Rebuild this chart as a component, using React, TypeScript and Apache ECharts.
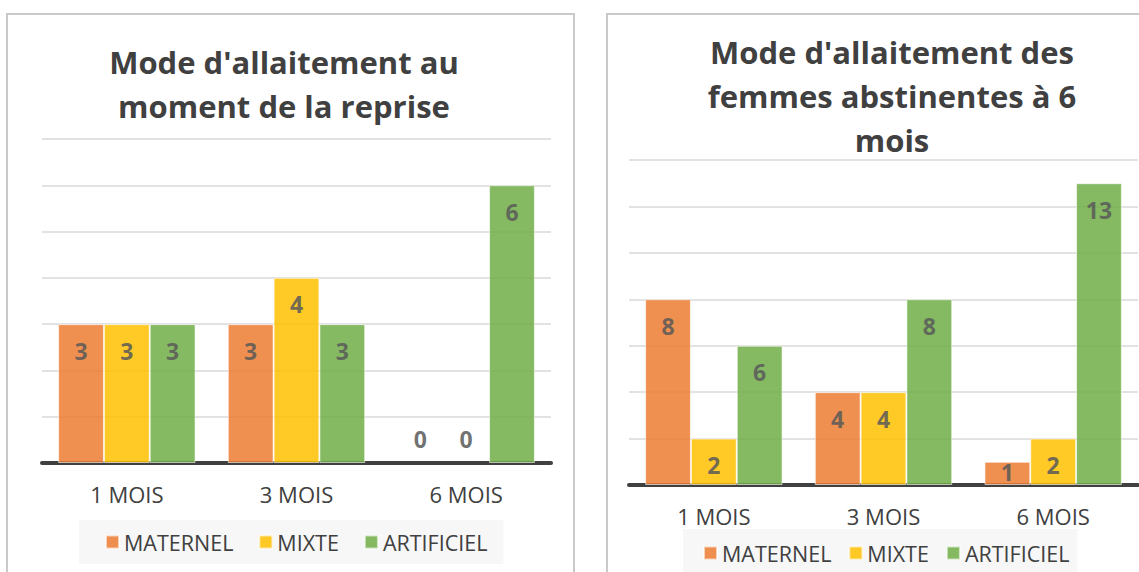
import React, { useEffect, useRef } from "react";
import * as echarts from "echarts";

const categories = ["1 MOIS", "3 MOIS", "6 MOIS"];
const seriesNames = ["MATERNEL", "MIXTE", "ARTIFICIEL"];
const leftValues = {
  MATERNEL: [3, 3, 0],
  MIXTE: [3, 4, 0],
  ARTIFICIEL: [3, 3, 6],
};
const rightValues = {
  MATERNEL: [8, 4, 1],
  MIXTE: [2, 4, 2],
  ARTIFICIEL: [6, 8, 13],
};
const leftTitle = "Mode d'allaitement au\nmoment de la reprise";
const rightTitle = "Mode d'allaitement des\nfemmes abstinentes à 6\nmois";
const colors = ["#ED7D31", "#FFC000", "#70AD47"];

const FONT = "'Open Sans', 'DejaVu Sans', sans-serif";

function labelFor(v: number, pxPerUnit: number) {
  const base = {
    show: true,
    color: "#595959",
    fontSize: 23,
    fontWeight: "bold" as const,
    fontFamily: FONT,
  };
  if (v === 0) return { ...base, position: "insideBottom", distance: 13 };
  if (v * pxPerUnit < 40) return { ...base, position: "insideBottom", distance: 2 };
  return { ...base, position: "insideTop", distance: 15 };
}

export default function App() {
  const ref = useRef<HTMLDivElement>(null);
  useEffect(() => {
    if (!ref.current) return;
    const chart = echarts.init(ref.current, null, { renderer: "svg" });
    const leftPx = (463 - 139) / 7;
    const rightPx = (485 - 160) / 14;
    const makeSeries = (vals: any, idx: number, px: number) =>
      seriesNames.map((n, i) => ({
        name: n,
        type: "bar",
        xAxisIndex: idx,
        yAxisIndex: idx,
        barGap: "0%",
        barCategoryGap: "19%",
        itemStyle: {
          color: colors[i],
          opacity: 0.85,
          borderColor: "rgba(255,255,255,0.7)",
          borderWidth: 1,
        },
        data: vals[n].map((v: number) => ({
          value: v,
          label: labelFor(v, px),
          itemStyle: v === 0 ? { borderWidth: 0 } : undefined,
        })),
      }));
    const xAxisBase = (grid: number) => ({
      type: "category",
      gridIndex: grid,
      data: categories,
      axisTick: { show: false },
      axisLine: { lineStyle: { color: "#404040", width: 4 } },
      axisLabel: { color: "#404040", fontSize: 22, fontFamily: FONT, margin: 20 },
    });
    const yAxisBase = (grid: number, max: number, interval: number) => ({
      type: "value",
      gridIndex: grid,
      min: 0,
      max,
      interval,
      axisLabel: { show: false },
      axisLine: { show: false },
      axisTick: { show: false },
      splitLine: { lineStyle: { color: "#d9d9d9", width: 1.5 } },
    });
    const legendBase = {
      data: seriesNames,
      icon: "rect",
      itemWidth: 13,
      itemHeight: 13,
      backgroundColor: "#f7f7f7",
      textStyle: { color: "#404040", fontSize: 21.5, fontFamily: FONT },
      selectedMode: false,
    };
    const titleStyle = {
      color: "#404040",
      fontSize: 31,
      fontWeight: "bold" as const,
      fontFamily: FONT,
      lineHeight: 44,
    };
    chart.setOption({
      animation: false,
      backgroundColor: "#ffffff",
      graphic: [
        {
          type: "rect",
          shape: { x: 7, y: 14, width: 567, height: 600 },
          style: { fill: "none", stroke: "#c9c9c9", lineWidth: 2 },
        },
        {
          type: "rect",
          shape: { x: 607, y: 14, width: 600, height: 600 },
          style: { fill: "none", stroke: "#c9c9c9", lineWidth: 2 },
        },
      ],
      title: [
        { text: leftTitle, left: 279, top: 35, textAlign: "center", textStyle: titleStyle },
        { text: rightTitle, left: 887, top: 25, textAlign: "center", textStyle: titleStyle },
      ],
      legend: [
        { ...legendBase, itemGap: 25, left: 79, top: 520, padding: [11, 16, 11, 26] },
        { ...legendBase, itemGap: 17, left: 683, top: 529, padding: [13, 8, 13, 20] },
      ],
      grid: [
        { left: 42, right: 1139 - 551, top: 139, bottom: 572 - 463 },
        { left: 629, right: 1, top: 160, bottom: 572 - 485 },
      ],
      xAxis: [xAxisBase(0), xAxisBase(1)],
      yAxis: [yAxisBase(0, 7, 1), yAxisBase(1, 14, 2)],
      series: [...makeSeries(leftValues, 0, leftPx), ...makeSeries(rightValues, 1, rightPx)],
    });
    return () => chart.dispose();
  }, []);
  return (
    <div
      ref={ref}
      style={{ position: "fixed", left: 0, top: 0, width: 1139, height: 572 }}
    />
  );
}
